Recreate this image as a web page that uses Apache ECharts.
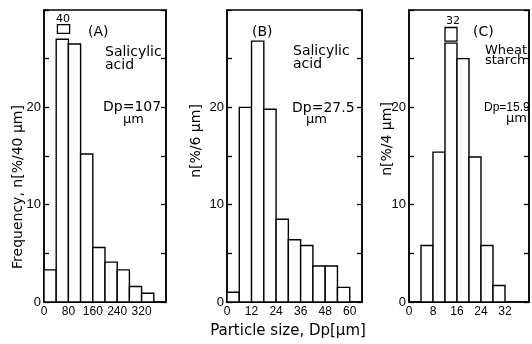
<!DOCTYPE html>
<html><head><meta charset="utf-8">
<script src="https://cdn.jsdelivr.net/npm/echarts@6/dist/echarts.min.js"></script>
<style>html,body{margin:0;padding:0;background:#fff}#c{width:532px;height:344px}</style>
</head><body><div id="c"></div>
<script>
// Panel A: Salicylic acid, bins of 40 µm  [start, end, frequency %]
const binsA = [[0,40],[40,80],[80,120],[120,160],[160,200],[200,240],[240,280],[280,320],[320,360]];
const valsA = [3.3, 27.0, 26.5, 15.2, 5.6, 4.1, 3.3, 1.6, 0.9];
// Panel B: Salicylic acid, bins of 6 µm
const binsB = [[0,6],[6,12],[12,18],[18,24],[24,30],[30,36],[36,42],[42,48],[48,54],[54,60]];
const valsB = [1.0, 20.0, 26.8, 19.8, 8.5, 6.4, 5.8, 3.7, 3.7, 1.5];
// Panel C: Wheat starch, bins of 4 µm
const binsC = [[4,8],[8,12],[12,16],[16,20],[20,24],[24,28],[28,32]];
const valsC = [5.8, 15.4, 26.6, 25.0, 14.9, 5.8, 1.7];
// bin-width indicator boxes [start, end, low, high]
const boxA = [[44, 84, 27.6, 28.5]];
const boxC = [[12, 16, 26.8, 28.2]];
// tick labels
const ticksA = [0, 80, 160, 240, 320];
const ticksB = [0, 12, 24, 36, 48, 60];
const ticksC = [0, 8, 16, 24, 32];
const ticksY = [0, 10, 20];

const FONT = 'DejaVu Sans';
const TFONT = 'Liberation Sans';
const chart = echarts.init(document.getElementById('c'), null, {renderer:'canvas'});

function histItem(params, api){
  const p0 = api.coord([api.value(0), api.value(2)]);
  const p1 = api.coord([api.value(1), 0]);
  return {type:'rect', shape:{x:p0[0], y:p0[1], width:p1[0]-p0[0], height:p1[1]-p0[1]},
    style:{fill:'#fff', stroke:'#000', lineWidth:1.4}};
}
function boxItem(params, api){
  const p0 = api.coord([api.value(0), api.value(3)]);
  const p1 = api.coord([api.value(1), api.value(2)]);
  return {type:'rect', shape:{x:p0[0], y:p0[1], width:p1[0]-p0[0], height:p1[1]-p0[1]},
    style:{fill:'#fff', stroke:'#000', lineWidth:1.3}};
}
const grids = [
  {left:44, right:366, top:10, bottom:42},
  {left:227, right:170, top:10, bottom:42},
  {left:409, right:3, top:10, bottom:42}
].map(g => Object.assign(g, {show:true, borderColor:'#000', borderWidth:1.5, backgroundColor:'#fff'}));

const xCfg = [[0,400,40,ticksA],[0,66,6,ticksB],[0,40,4,ticksC]];
const xAxis = xCfg.map((c,i)=>({
  type:'value', gridIndex:i, min:c[0], max:c[1], interval:c[2],
  axisLine:{show:true, lineStyle:{color:'#000', width:1.5}},
  axisTick:{show:false}, splitLine:{show:false},
  axisLabel:{color:'#000', fontFamily:TFONT, fontSize:12, margin:4,
    formatter:v => c[3].includes(v) ? String(v) : ''}
}));
const yAxis = [];
for (let i=0;i<3;i++){
  yAxis.push({type:'value', gridIndex:i, min:0, max:30, interval:5, position:'left',
    axisLine:{show:true, lineStyle:{color:'#000', width:1.5}},
    axisTick:{show:true, inside:true, length:5, lineStyle:{color:'#000', width:1.3}},
    splitLine:{show:false},
    axisLabel:{color:'#000', fontFamily:TFONT, fontSize:13, margin:3,
      formatter:v => ticksY.includes(v) ? String(v) : ''}});
  yAxis.push({type:'value', gridIndex:i, min:0, max:30, interval:5, position:'right',
    axisLine:{show:true, lineStyle:{color:'#000', width:1.5}},
    axisTick:{show:true, inside:true, length:5, lineStyle:{color:'#000', width:1.3}},
    splitLine:{show:false}, axisLabel:{show:false}});
}
const mk = (bins, vals) => bins.map((b,i)=>[b[0], b[1], vals[i]]);
const series = [
  {type:'custom', xAxisIndex:0, yAxisIndex:0, renderItem:histItem, data:mk(binsA,valsA), encode:{x:[0,1], y:2}, silent:true},
  {type:'custom', xAxisIndex:1, yAxisIndex:2, renderItem:histItem, data:mk(binsB,valsB), encode:{x:[0,1], y:2}, silent:true},
  {type:'custom', xAxisIndex:2, yAxisIndex:4, renderItem:histItem, data:mk(binsC,valsC), encode:{x:[0,1], y:2}, silent:true},
  {type:'custom', xAxisIndex:0, yAxisIndex:0, renderItem:boxItem, data:boxA, encode:{x:[0,1], y:[2,3]}, silent:true},
  {type:'custom', xAxisIndex:2, yAxisIndex:4, renderItem:boxItem, data:boxC, encode:{x:[0,1], y:[2,3]}, silent:true}
];
const T = (x,y,text,size,align,fam) => ({type:'text', x:x, y:y, style:{text:text, fill:'#000', font:size+'px "'+(fam||FONT)+'"', textAlign:align||'left', textVerticalAlign:'middle'}});
const graphic = [
  T(63,19,'40',11,'center'),
  T(88,32,'(A)',14), T(105,52,'Salicylic',14), T(105,65,'acid',14), T(103,107,'Dp=107',14), T(123,120,'µm',13),
  T(252,32,'(B)',14), T(293,51,'Salicylic',14), T(293,64,'acid',14), T(292,108,'Dp=27.5',14), T(306,120,'µm',13),
  T(473,32,'(C)',14), T(485,51,'Wheat',13), T(485,61,'starch',13), T(484,108,'Dp=15.9',12,'left',TFONT), T(506,119,'µm',13),
  T(453,21,'32',11,'center'),
  {type:'text', x:18, y:187, rotation:Math.PI/2, style:{text:'Frequency, n[%/40 µm]', fill:'#000', font:'14px "'+FONT+'"', textAlign:'center', textVerticalAlign:'middle'}},
  {type:'text', x:196, y:141, rotation:Math.PI/2, style:{text:'n[%/6 µm]', fill:'#000', font:'14px "'+FONT+'"', textAlign:'center', textVerticalAlign:'middle'}},
  {type:'text', x:387, y:139, rotation:Math.PI/2, style:{text:'n[%/4 µm]', fill:'#000', font:'14px "'+FONT+'"', textAlign:'center', textVerticalAlign:'middle'}},
  {type:'text', x:288, y:331, style:{text:'Particle size, Dp[µm]', fill:'#000', font:'15px "'+FONT+'"', textAlign:'center', textVerticalAlign:'middle'}}
];
chart.setOption({animation:false, backgroundColor:'#fff', grid:grids, xAxis:xAxis, yAxis:yAxis, series:series, graphic:graphic});
</script></body></html>
